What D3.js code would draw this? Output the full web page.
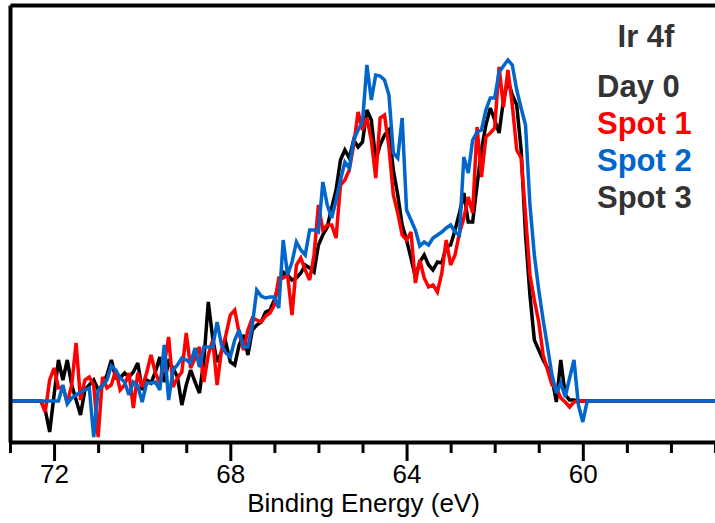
<!DOCTYPE html>
<html>
<head>
<meta charset="utf-8">
<script src="https://cdn.jsdelivr.net/npm/d3@7"></script>
<style>
  html, body { margin: 0; padding: 0; background: #fff; }
  svg { display: block; }
  text { font-family: "Liberation Sans", Arial, sans-serif; }
</style>
</head>
<body>
<div id="chart"></div>
<script>
// Binding energy (eV) sample points
const energies = [73.0, 72.3, 72.2, 72.1, 72.0, 71.9, 71.8, 71.7, 71.6, 71.5, 71.4, 71.3, 71.2, 71.1, 71.0,
  70.9, 70.8, 70.7, 70.6, 70.5, 70.4, 70.3, 70.2, 70.1, 70.0, 69.9, 69.8, 69.7, 69.6, 69.5, 69.4, 69.3, 69.2,
  69.1, 69.0, 68.9, 68.8, 68.7, 68.6, 68.5, 68.4, 68.3, 68.2, 68.1, 68.0, 67.9, 67.8, 67.7, 67.6, 67.5, 67.4,
  67.3, 67.2, 67.1, 67.0, 66.9, 66.8, 66.7, 66.6, 66.5, 66.4, 66.3, 66.2, 66.1, 66.0, 65.9, 65.8, 65.7, 65.6,
  65.5, 65.4, 65.3, 65.2, 65.1, 65.0, 64.9, 64.8, 64.7, 64.6, 64.5, 64.4, 64.3, 64.2, 64.1, 64.0, 63.9, 63.8,
  63.7, 63.6, 63.5, 63.4, 63.3, 63.2, 63.1, 63.0, 62.9, 62.8, 62.7, 62.6, 62.5, 62.4, 62.3, 62.2, 62.1, 62.0,
  61.9, 61.8, 61.7, 61.6, 61.5, 61.4, 61.3, 61.2, 61.1, 61.0, 60.9, 60.8, 60.7, 60.6, 60.5, 60.4, 60.3, 60.2,
  60.1, 60.0, 59.9, 59.8, 57.0];

// Intensities (arbitrary units)
const day0 = [0, 0, -9, -31, 6, 41, 21, 41, 16, 1, -14, 11, 16, 21, 11, 16, 26, 41, 23, 23, 28, 24, 29, 38, 11,
  21, 18, 29, 44, 19, 39, 33, 24, -4, 16, 31, 19, 8, 41, 99, 63, 39, 49, 58, 39, 36, 56, 66, 46, 71, 76, 79, 89,
  91, 101, 116, 129, 126, 121, 123, 128, 136, 133, 129, 156, 166, 174, 193, 211, 241, 251, 243, 261, 254, 259,
  291, 281, 241, 256, 266, 271, 231, 206, 176, 161, 143, 124, 139, 146, 136, 131, 139, 138, 154, 156, 171, 188,
  208, 179, 179, 216, 251, 276, 293, 281, 268, 301, 321, 306, 296, 251, 166, 106, 61, 51, 41, 33, 23, -1, 41, 6,
  1, 1, 0, 0, 0, 0, 0];

const spot1 = [0, 0, -11, 21, 33, 13, 14, -2, 16, 58, 1, 21, 24, 16, -36, 24, 13, 16, 31, 11, 16, 28, -7, 28, 14,
  28, 46, 28, 18, 36, 64, 14, 23, 29, 68, 33, 43, 54, 19, 46, 61, 16, 51, 66, 86, 91, 68, 51, 71, 83, 81, 79, 85,
  88, 96, 123, 123, 126, 86, 136, 143, 131, 121, 146, 196, 171, 176, 176, 163, 216, 221, 231, 256, 289, 271, 283,
  261, 223, 283, 286, 254, 206, 188, 166, 161, 169, 118, 141, 123, 114, 116, 109, 128, 161, 136, 146, 168, 183,
  204, 188, 274, 224, 264, 268, 273, 334, 294, 331, 296, 251, 243, 186, 126, 101, 79, 46, 31, 16, 13, 3, -1, -6,
  -1, 0, 0, 0, 0, 0];

const spot2 = [0, 0, 0, 0, 0, 0, 16, -3, 3, 6, 9, 11, 13, -36, 11, 15, 21, 35, 31, 23, 19, 6, 19, 15, -1, 18, 18,
  19, 11, 56, 1, 31, 36, 43, 41, 38, 53, 34, 54, 54, 54, 79, 56, 48, 44, 61, 71, 54, 54, 76, 111, 105, 103, 104,
  104, 93, 161, 126, 139, 159, 151, 146, 171, 171, 169, 219, 196, 183, 201, 221, 239, 233, 261, 271, 279, 336,
  301, 326, 325, 321, 306, 248, 243, 283, 191, 181, 171, 155, 159, 156, 163, 166, 169, 173, 176, 169, 166, 244,
  228, 261, 269, 271, 291, 303, 303, 329, 335, 341, 336, 311, 293, 276, 196, 146, 111, 81, 54, 26, 8, 18, 4, 23,
  41, -4, -21, 0, 0, 0];

const seriesNames = ["Day 0", "Spot 1", "Spot 2"];
const seriesValues = [day0, spot1, spot2];
const lineColors = ["#000000", "#ff0000", "#0066cc"];

const legendTitle = "Ir 4f";
const legendLabels = ["Day 0", "Spot 1", "Spot 2", "Spot 3"];
const legendColors = ["#333333", "#ff0000", "#0066cc", "#333333"];

const majorTicks = [72, 68, 64, 60];
const minorTicks = [73, 71, 70, 69, 67, 66, 65, 63, 62, 61, 59, 58, 57];
const xDomain = [73, 57];
const yDomain = [-41, 396];
const xLabel = "Binding Energy (eV)";

(function () {
  const W = 715, H = 523;
  const pLeft = 10, pRight = 715, pTop = 5, pBottom = 442;

  const svg = d3.select("#chart").append("svg")
    .attr("width", W).attr("height", H)
    .style("background", "#fff");

  const x = d3.scaleLinear().domain(xDomain).range([pLeft, pRight]);
  const y = d3.scaleLinear().domain(yDomain).range([pBottom, pTop]);

  // data lines
  const line = d3.line().x(d => x(d.e)).y(d => y(d.v));
  seriesValues.forEach((vals, i) => {
    const pts = energies.map((e, j) => ({ e, v: vals[j] })).filter(d => d.v !== undefined);
    svg.append("path")
      .datum(pts)
      .attr("fill", "none")
      .attr("stroke", lineColors[i])
      .attr("stroke-width", 3.5)
      .attr("stroke-linejoin", "miter")
      .attr("stroke-miterlimit", 3)
      .attr("d", line);
  });

  // frame: top and left lines
  svg.append("g").attr("transform", `translate(0,${pTop})`)
    .call(d3.axisTop(x).tickValues([]).tickSizeOuter(0))
    .call(g => g.select(".domain").attr("stroke", "#000").attr("stroke-width", 4));
  svg.append("g").attr("transform", `translate(${pLeft},0)`)
    .call(d3.axisLeft(y).tickValues([]).tickSizeOuter(0))
    .call(g => g.select(".domain").attr("stroke", "#000").attr("stroke-width", 4));

  // bottom axis: minor ticks
  svg.append("g").attr("transform", `translate(0,${pBottom})`)
    .call(d3.axisBottom(x).tickValues(minorTicks).tickSize(11).tickSizeOuter(0).tickFormat(""))
    .call(g => g.select(".domain").attr("stroke", "#000").attr("stroke-width", 4))
    .call(g => g.selectAll(".tick line").attr("stroke", "#000").attr("stroke-width", 3));

  // bottom axis: major ticks with labels
  svg.append("g").attr("transform", `translate(0,${pBottom})`)
    .call(d3.axisBottom(x).tickValues(majorTicks).tickSize(19).tickPadding(4).tickSizeOuter(0).tickFormat(d3.format("d")))
    .call(g => g.select(".domain").remove())
    .call(g => g.selectAll(".tick line").attr("stroke", "#000").attr("stroke-width", 3))
    .call(g => g.selectAll(".tick text")
      .attr("fill", "#000")
      .style("font-family", "'Liberation Sans', Arial, sans-serif")
      .style("font-size", "26px"));

  // axis title
  svg.append("text")
    .attr("x", (pLeft + pRight) / 2 + 1)
    .attr("y", 512)
    .attr("text-anchor", "middle")
    .attr("fill", "#000")
    .style("font-size", "26px")
    .text(xLabel);

  // legend
  svg.append("text")
    .attr("x", 646).attr("y", 47)
    .attr("text-anchor", "middle")
    .attr("fill", "#333333")
    .style("font-size", "31px").style("font-weight", "bold")
    .text(legendTitle);

  svg.append("g").selectAll("text")
    .data(legendLabels)
    .join("text")
    .attr("x", 597)
    .attr("y", (d, i) => 97 + i * 37)
    .attr("fill", (d, i) => legendColors[i])
    .style("font-size", "31px").style("font-weight", "bold")
    .text(d => d);
})();
</script>
</body>
</html>
